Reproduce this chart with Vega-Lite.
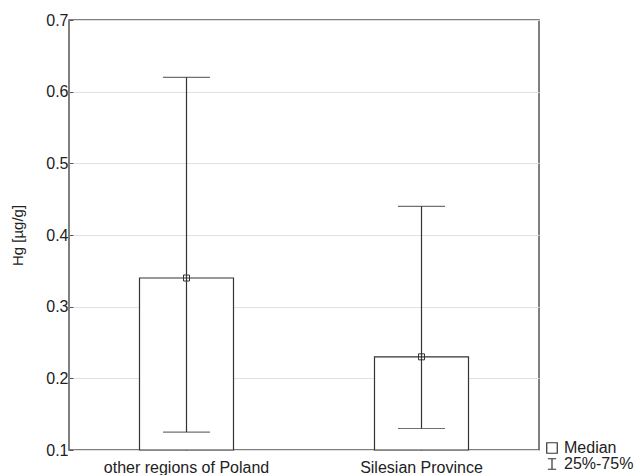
{
  "$schema": "https://vega.github.io/schema/vega-lite/v6.json",
  "width": 470,
  "height": 430,
  "autosize": {"type": "none"},
  "padding": {"left": 69, "top": 20, "right": 105, "bottom": 25},
  "background": "white",
  "config": {
    "font": "Liberation Sans",
    "view": {"stroke": "#555555", "strokeWidth": 1.5},
    "axis": {"labelFont": "Liberation Sans", "titleFont": "Liberation Sans", "labelColor": "#222222", "titleColor": "#222222", "domain": false, "tickColor": "#555555"}
  },
  "data": {
    "values": [
      {"region": "other regions of Poland", "median": 0.34, "q1": 0.125, "q3": 0.62, "stat": "Median"},
      {"region": "Silesian Province", "median": 0.23, "q1": 0.13, "q3": 0.44, "stat": "Median"}
    ]
  },
  "encoding": {
    "x": {
      "field": "region", "type": "nominal", "sort": null,
      "scale": {"paddingInner": 0.6, "paddingOuter": 0.3},
      "axis": {"title": null, "labelAngle": 0, "labelFontSize": 16, "tickSize": -4, "labelPadding": 13, "grid": false}
    }
  },
  "layer": [
    {
      "mark": {"type": "bar", "fill": "white", "stroke": "#333333", "strokeWidth": 1.2},
      "encoding": {
        "y": {
          "field": "median", "type": "quantitative",
          "scale": {"domain": [0.1, 0.7], "nice": false, "zero": false},
          "axis": {"title": "Hg [µg/g]", "titleFontSize": 15, "titleFontWeight": "normal", "titlePadding": 20, "labelFontSize": 16, "tickSize": -4, "labelPadding": 5, "values": [0.1, 0.2, 0.3, 0.4, 0.5, 0.6, 0.7], "format": ".1f", "gridColor": "#e0e0e0", "gridWidth": 1.2}
        },
        "y2": {"datum": 0.1}
      }
    },
    {
      "mark": {"type": "rule", "stroke": "#333333", "strokeWidth": 1.2},
      "encoding": {
        "y": {"field": "q1", "type": "quantitative"},
        "y2": {"field": "q3"}
      }
    },
    {
      "mark": {"type": "tick", "color": "#333333", "size": 47, "thickness": 1.2},
      "encoding": {"y": {"field": "q1", "type": "quantitative"}}
    },
    {
      "mark": {"type": "tick", "color": "#333333", "size": 47, "thickness": 1.2},
      "encoding": {"y": {"field": "q3", "type": "quantitative"}}
    },
    {
      "mark": {"type": "point", "filled": false, "stroke": "#333333", "strokeWidth": 1, "size": 36, "opacity": 1},
      "encoding": {
        "y": {"field": "median", "type": "quantitative"},
        "shape": {
          "field": "stat", "type": "nominal",
          "scale": {"domain": ["Median", "25%-75%"], "range": ["square", "M-0.8,-1H0.8M0,-1V1M-0.8,1H0.8"]},
          "legend": {
            "title": null, "orient": "none", "legendX": 475, "legendY": 420,
            "labelFontSize": 16, "labelColor": "#222222", "symbolSize": 110,
            "symbolStrokeColor": "#333333", "symbolFillColor": "transparent", "symbolStrokeWidth": 1.2,
            "rowPadding": 0, "labelOffset": 4
          }
        }
      }
    }
  ]
}
